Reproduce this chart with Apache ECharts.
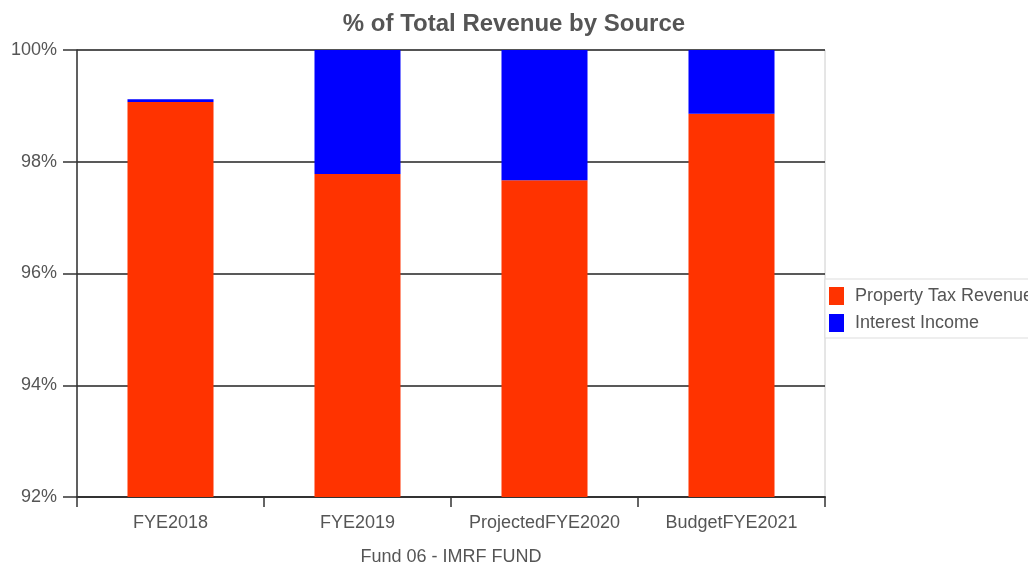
<!DOCTYPE html>
<html>
<head>
<meta charset="utf-8">
<script src="https://cdn.jsdelivr.net/npm/echarts@6/dist/echarts.min.js"></script>
<style>html,body{margin:0;padding:0;background:#fff;}#c{width:1028px;height:565px;}</style>
</head>
<body>
<div id="c"></div>
<script>
var categories = ['FYE2018', 'FYE2019', 'ProjectedFYE2020', 'BudgetFYE2021'];
var propertyTax = [99.07, 97.78, 97.67, 98.86];
var interestIncome = [0.05, 2.22, 2.33, 1.14];
var seriesNames = ['Property Tax Revenue', 'Interest Income'];

var chart = echarts.init(document.getElementById('c'));
var font = 'Liberation Sans, Arial, sans-serif';
chart.setOption({
  animation: false,
  backgroundColor: '#fff',
  title: [{
    text: '% of Total Revenue by Source',
    left: 'center', top: 7,
    textStyle: {fontFamily: font, fontSize: 24, fontWeight: 'bold', color: '#555'}
  }, {
    text: 'Fund 06 - IMRF FUND',
    left: 451, top: 548, textAlign: 'center', padding: 0,
    textStyle: {fontFamily: font, fontSize: 18, fontWeight: 'normal', color: '#555'}
  }],
  legend: {
    orient: 'vertical',
    left: 825, top: 279,
    itemWidth: 15, itemHeight: 18, itemGap: 9,
    backgroundColor: '#fff', borderColor: '#ddd', borderWidth: 1,
    padding: [8, 8, 6, 4],
    textStyle: {fontFamily: font, fontSize: 18, color: '#555', padding: [0, 0, 0, 6]},
    data: seriesNames.map(function(n){ return {name: n, icon: 'rect'}; })
  },
  grid: {left: 77, right: 203, top: 50, bottom: 68, show: true, borderColor: '#ccc', borderWidth: 1},
  xAxis: {
    type: 'category', data: categories,
    axisLine: {lineStyle: {color: '#333', width: 2}},
    axisTick: {show: true, interval: 0, alignWithLabel: false, length: 10, lineStyle: {color: '#333', width: 1.5}},
    axisLabel: {interval: 0, fontFamily: font, fontSize: 18, color: '#555', margin: 17}
  },
  yAxis: {
    type: 'value', min: 92, max: 100, interval: 2,
    axisLine: {show: true, lineStyle: {color: '#333', width: 1.5}},
    axisTick: {show: true, length: 14, lineStyle: {color: '#333', width: 1.5}},
    splitLine: {lineStyle: {color: '#222', width: 1.5}},
    axisLabel: {fontFamily: font, fontSize: 18, color: '#555', margin: 20, formatter: '{value}%'}
  },
  series: [{
    name: seriesNames[0], type: 'bar', stack: 's', data: propertyTax,
    barWidth: '46%', itemStyle: {color: '#FF3300'}
  }, {
    name: seriesNames[1], type: 'bar', stack: 's', data: interestIncome,
    barWidth: '46%', itemStyle: {color: '#0000FF'}
  }]
});
</script>
</body>
</html>
